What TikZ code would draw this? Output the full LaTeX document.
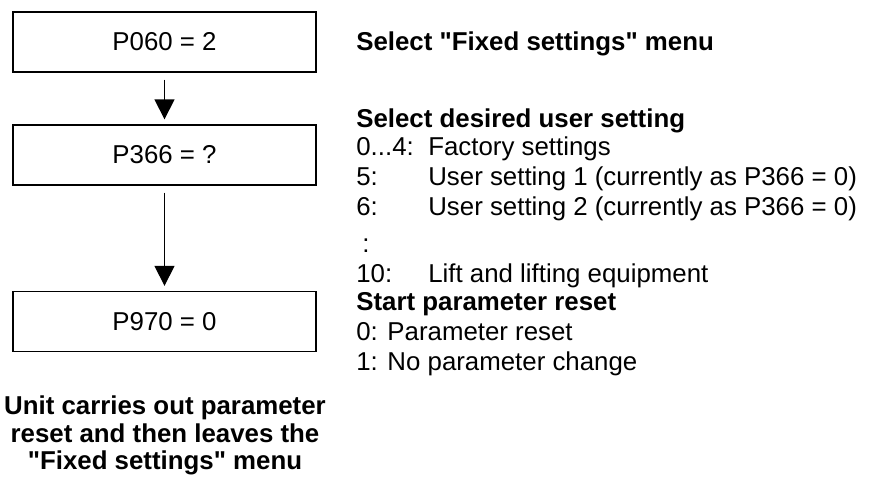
\documentclass[tikz,border=0pt]{standalone}
\usepackage{fontspec}
\setmainfont{Liberation Sans}[Ligatures=TeXOff]
\usetikzlibrary{arrows.meta}

\newcommand{\optline}[2]{\makebox[1.44cm][l]{#1}#2}

\begin{document}
\begin{tikzpicture}[
    font=\fontsize{14.7}{17}\selectfont,
    parbox/.style={draw, line width=0.75pt, minimum width=6.06cm,
                   minimum height=1.2cm, inner sep=0pt},
    flow/.style={-{Triangle[width=0.4cm, length=0.4cm]}, line width=0.75pt,
                 shorten <=0.14cm, shorten >=0.1cm},
    head/.style={anchor=base west, inner sep=0pt, font=\fontsize{14.7}{17}\selectfont\bfseries},
    item/.style={anchor=base west, inner sep=0pt}
  ]
  \useasboundingbox (0,0) rectangle (17.54,-9.64);

  \node[parbox] (p060) at (3.29,-0.84) {P060 = 2};
  \node[parbox] (p366) at (3.29,-3.10) {P366 = ?};
  \node[parbox] (p970) at (3.29,-6.43) {P970 = 0};

  \draw[flow] (p060) -- (p366);
  \draw[flow] (p366) -- (p970);

  \node[head] (menu) at (7.12,-1.00) {Select "Fixed settings" menu};

  \node[head] (user) at (7.12,-2.54) {Select desired user setting};
  \node[item] (fac) at (7.12,-3.10) {\optline{0...4:}{Factory settings}};
  \node[item] (us1) at (7.12,-3.70) {\optline{5:}{User setting 1 (currently as P366 = 0)}};
  \node[item] (us2) at (7.12,-4.30) {\optline{6:}{User setting 2 (currently as P366 = 0)}};
  \node[item] (dots) at (7.24,-5.04) {:};
  \node[item] (lift) at (7.12,-5.64) {\optline{10:}{Lift and lifting equipment}};

  \node[head] (start) at (7.12,-6.20) {Start parameter reset};
  \node[item] (rst) at (7.12,-6.80) {0: Parameter reset};
  \node[item] (nochg) at (7.12,-7.40) {1: No parameter change};

  \node[anchor=north, align=center, inner sep=0pt,
        font=\fontsize{14.7}{15.9}\selectfont\bfseries] (done) at (3.30,-7.90)
    {Unit carries out parameter\\reset and then leaves the\\"Fixed settings" menu};
\end{tikzpicture}
\end{document}
